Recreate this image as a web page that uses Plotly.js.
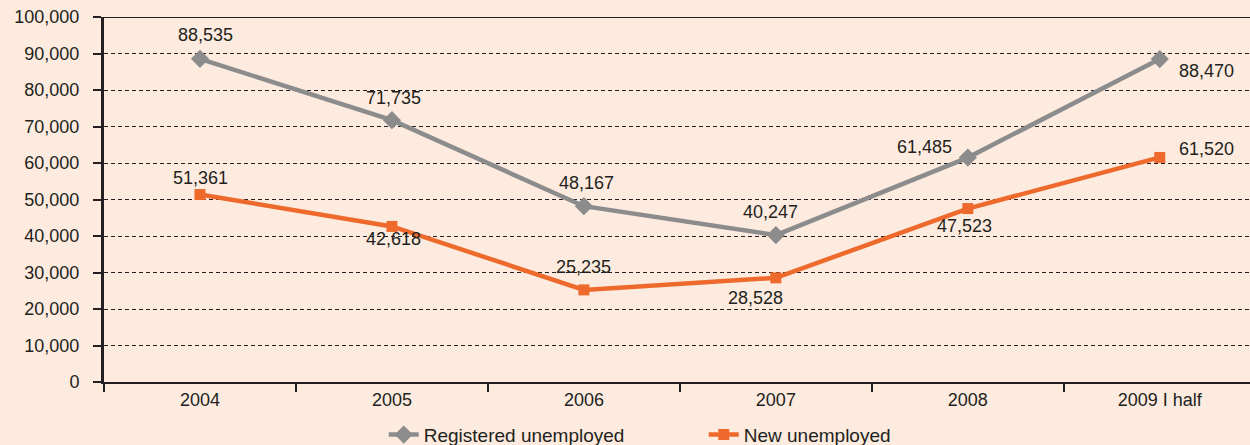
<!DOCTYPE html>
<html><head><meta charset="utf-8">
<script src="https://cdn.plot.ly/plotly-3.0.1.min.js"></script>
<style>html,body{margin:0;padding:0;background:#FDEBDF;}</style>
</head><body>
<div id="chart" style="width:1250px;height:445px;"></div>
<script>
const categories = ["2004","2005","2006","2007","2008","2009 I half"];
const registeredUnemployed = [88535, 71735, 48167, 40247, 61485, 88470];
const newUnemployed = [51361, 42618, 25235, 28528, 47523, 61520];
const yTickVals = [0,10000,20000,30000,40000,50000,60000,70000,80000,90000,100000];

// label offsets (px) – style only
const regOff = [[6,-24],[2,-22],[3,-23],[-5,-23],[-43,-11],[47,12]];
const newOff = [[1,-17],[2,13],[0,-23],[-20,20],[-3,17],[47,-8]];

const fmt = v => v.toLocaleString('en-US');
const annotations = [];
categories.forEach((c,i)=>{
  annotations.push({x:i,y:registeredUnemployed[i],xref:'x',yref:'y',text:fmt(registeredUnemployed[i]),showarrow:false,xshift:regOff[i][0],yshift:-regOff[i][1],font:{size:18,color:'#231F20'}});
  annotations.push({x:i,y:newUnemployed[i],xref:'x',yref:'y',text:fmt(newUnemployed[i]),showarrow:false,xshift:newOff[i][0],yshift:-newOff[i][1],font:{size:18,color:'#231F20'}});
});

const traces = [
  {x:categories, y:registeredUnemployed, name:'Registered unemployed', type:'scatter', mode:'lines+markers',
   line:{color:'#8C8C8C',width:4.5}, marker:{symbol:'diamond',size:14,color:'#8C8C8C'}},
  {x:categories, y:newUnemployed, name:'New unemployed', type:'scatter', mode:'lines+markers',
   line:{color:'#EE6A2C',width:4.5}, marker:{symbol:'square',size:11,color:'#EE6A2C'}}
];

const layout = {
  width:1250, height:445,
  paper_bgcolor:'#FDEBDF', plot_bgcolor:'#FDEBDF',
  margin:{l:104,r:0,t:17,b:63},
  font:{family:'Liberation Sans, Arial, sans-serif',size:18,color:'#231F20'},
  showlegend:true,
  legend:{orientation:'h',x:0.563,xanchor:'center',xref:'container',yref:'container',y:0.023,yanchor:'middle',
    font:{size:19},entrywidth:275,bgcolor:'rgba(0,0,0,0)'},
  xaxis:{type:'category',range:[-0.5,5.47],
    showline:true,linecolor:'#231F20',linewidth:2,ticks:'outside',tickson:'boundaries',ticklen:8,tickwidth:2,tickcolor:'#231F20',
    showgrid:false,zeroline:false,fixedrange:true,tickfont:{size:18}},
  yaxis:{range:[0,100000],tickmode:'array',tickvals:yTickVals,tickformat:',',
    showline:true,linecolor:'#231F20',linewidth:3,ticks:'outside',ticklen:8,tickwidth:2,tickcolor:'#231F20',ticklabelstandoff:10,
    showgrid:true,gridcolor:'#231F20',griddash:'4px,3px',gridwidth:1,zeroline:false,tickfont:{size:18}},
  shapes:[{type:'line',xref:'paper',yref:'y',x0:0,x1:1,y0:100000,y1:100000,line:{color:'#231F20',width:2}}],
  annotations:annotations
};
Plotly.newPlot('chart',traces,layout,{displayModeBar:false,staticPlot:true});
</script>
</body></html>
